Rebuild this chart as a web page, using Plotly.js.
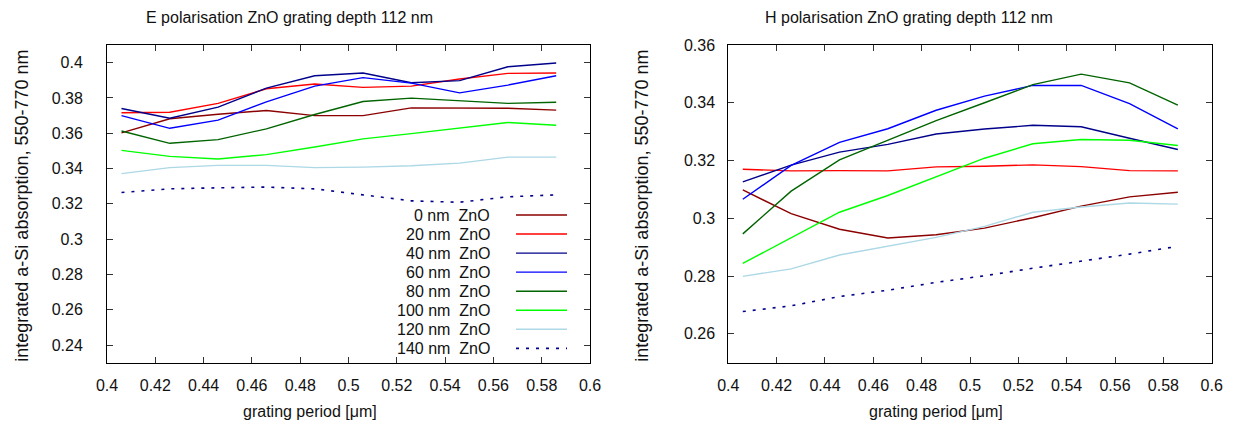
<!DOCTYPE html>
<html>
<head>
<meta charset="utf-8">
<script src="https://cdn.plot.ly/plotly-3.0.1.min.js"></script>
<style>
  html, body { margin: 0; padding: 0; background: #fff; }
  #chart { width: 1244px; height: 428px; }
</style>
</head>
<body>
<div id="chart"></div>
<script>
// ---- data ----
const periods = [0.406, 0.426, 0.446, 0.466, 0.486, 0.506, 0.526, 0.546, 0.566, 0.586];
const seriesNames = ["0 nm  ZnO", "20 nm  ZnO", "40 nm  ZnO", "60 nm  ZnO", "80 nm  ZnO", "100 nm  ZnO", "120 nm  ZnO", "140 nm  ZnO"];

// E polarisation
const E_0nm   = [0.3602, 0.3682, 0.3708, 0.3729, 0.3700, 0.3700, 0.3744, 0.3744, 0.3742, 0.3731];
const E_20nm  = [0.3716, 0.3719, 0.3769, 0.3852, 0.3879, 0.3860, 0.3867, 0.3907, 0.3939, 0.3941];
const E_40nm  = [0.3740, 0.3685, 0.3748, 0.3856, 0.3926, 0.3941, 0.3886, 0.3898, 0.3977, 0.3998];
const E_60nm  = [0.3700, 0.3628, 0.3674, 0.3778, 0.3867, 0.3915, 0.3884, 0.3829, 0.3873, 0.3926];
const E_80nm  = [0.3613, 0.3543, 0.3564, 0.3625, 0.3706, 0.3780, 0.3799, 0.3782, 0.3769, 0.3776];
const E_100nm = [0.3503, 0.3469, 0.3454, 0.3479, 0.3522, 0.3568, 0.3598, 0.3630, 0.3661, 0.3645];
const E_120nm = [0.3371, 0.3405, 0.3418, 0.3418, 0.3405, 0.3408, 0.3416, 0.3431, 0.3465, 0.3465];
const E_140nm = [0.3264, 0.3285, 0.3291, 0.3295, 0.3285, 0.3253, 0.3217, 0.3209, 0.3240, 0.3251];

// H polarisation
const H_0nm   = [0.3098, 0.3016, 0.2962, 0.2932, 0.2943, 0.2966, 0.3002, 0.3042, 0.3074, 0.3090];
const H_20nm  = [0.3170, 0.3164, 0.3165, 0.3164, 0.3178, 0.3180, 0.3185, 0.3179, 0.3165, 0.3164];
const H_40nm  = [0.3126, 0.3184, 0.3229, 0.3256, 0.3292, 0.3309, 0.3322, 0.3317, 0.3277, 0.3238];
const H_60nm  = [0.3066, 0.3183, 0.3263, 0.3310, 0.3374, 0.3423, 0.3460, 0.3460, 0.3397, 0.3310];
const H_80nm  = [0.2946, 0.3094, 0.3202, 0.3271, 0.3338, 0.3400, 0.3463, 0.3499, 0.3469, 0.3392];
const H_100nm = [0.2844, 0.2933, 0.3021, 0.3079, 0.3144, 0.3208, 0.3258, 0.3273, 0.3270, 0.3252];
const H_120nm = [0.2799, 0.2825, 0.2873, 0.2903, 0.2934, 0.2972, 0.3021, 0.3039, 0.3053, 0.3049];
const H_140nm = [0.2677, 0.2697, 0.2729, 0.2751, 0.2778, 0.2801, 0.2827, 0.2851, 0.2876, 0.2903];

const plotTitles = ["E polarisation ZnO grating depth 112 nm", "H polarisation ZnO grating depth 112 nm"];
const xLabel = "grating period [\u03bcm]";
const yLabel = "integrated a-Si absorption, 550-770 nm";

// ---- styles ----
const colors = ["#8b0000", "#ff0000", "#00008b", "#0000ff", "#006400", "#00ff00", "#add8e6", "#00008b"];
const dashes = ["solid", "solid", "solid", "solid", "solid", "solid", "solid", "3px,7px"];
const FONT = "Liberation Sans, Arial, Helvetica, sans-serif";

const Eseries = [E_0nm, E_20nm, E_40nm, E_60nm, E_80nm, E_100nm, E_120nm, E_140nm];
const Hseries = [H_0nm, H_20nm, H_40nm, H_60nm, H_80nm, H_100nm, H_120nm, H_140nm];

const traces = [];
Eseries.forEach((ys, i) => traces.push({
  x: periods, y: ys, type: "scatter", mode: "lines", name: seriesNames[i],
  xaxis: "x", yaxis: "y",
  line: { color: colors[i], width: i === 7 ? 1.6 : 1.4, dash: dashes[i] }
}));
Hseries.forEach((ys, i) => traces.push({
  x: periods, y: ys, type: "scatter", mode: "lines", name: seriesNames[i],
  xaxis: "x2", yaxis: "y2", showlegend: false,
  line: { color: colors[i], width: i === 7 ? 1.6 : 1.4, dash: dashes[i] }
}));

const W = 1244, H = 428;
const px = v => v / W;
const py = v => 1 - v / H;

const axisCommon = {
  showline: true, linecolor: "#000", linewidth: 1, mirror: "ticks",
  ticks: "inside", ticklen: 6, tickwidth: 1, tickcolor: "#333",
  showgrid: false, zeroline: false,
  tickfont: { family: FONT, size: 16, color: "#111" }
};

const xCommon = Object.assign({}, axisCommon, { range: [0.4, 0.6], tick0: 0.4, dtick: 0.02, ticklabelstandoff: 8 });

const layout = {
  width: W, height: H,
  margin: { l: 0, r: 0, t: 0, b: 0 },
  paper_bgcolor: "#fff", plot_bgcolor: "#fff",
  showlegend: false,
  font: { family: FONT, size: 16, color: "#111" },
  xaxis: Object.assign({}, xCommon, { domain: [px(107), px(590)], anchor: "y" }),
  xaxis2: Object.assign({}, xCommon, { domain: [px(728.3), px(1211.7)], anchor: "y2" }),
  yaxis: Object.assign({}, axisCommon, { domain: [py(362.7), py(45)], anchor: "x", range: [0.23, 0.41], tick0: 0.24, dtick: 0.02, ticklabelstandoff: 20 }),
  yaxis2: Object.assign({}, axisCommon, { domain: [py(362.7), py(45)], anchor: "x2", range: [0.25, 0.36], tick0: 0.26, dtick: 0.02, ticklabelstandoff: 9 }),
  annotations: [],
  shapes: []
};

const ann = (text, x, y, opts) => Object.assign({
  text: text, xref: "paper", yref: "paper", x: x, y: y,
  showarrow: false, xanchor: "center", yanchor: "middle",
  font: { family: FONT, size: 16, color: "#111" }
}, opts || {});

// titles
layout.annotations.push(ann(plotTitles[0], px(289), py(18)));
layout.annotations.push(ann(plotTitles[1], px(909), py(18)));
// x labels
layout.annotations.push(ann(xLabel, px(310), py(411)));
layout.annotations.push(ann(xLabel, px(936), py(411)));
// y labels
layout.annotations.push(ann(yLabel, px(21.7), py(206), { textangle: -90, font: { family: FONT, size: 18, color: "#111" } }));
layout.annotations.push(ann(yLabel, px(641.7), py(206), { textangle: -90, font: { family: FONT, size: 18, color: "#111" } }));

// key (gnuplot style: text right-aligned, sample on the right)
seriesNames.forEach((nm, i) => {
  const yy = 215 + 19.05 * i;
  layout.annotations.push(ann(nm, px(492), py(yy), { xanchor: "right" }));
  layout.shapes.push({
    type: "line", xref: "paper", yref: "paper",
    x0: px(516), x1: px(567), y0: py(yy), y1: py(yy),
    line: { color: colors[i], width: i === 7 ? 1.6 : 1.4, dash: dashes[i] }
  });
});

Plotly.newPlot("chart", traces, layout, { displayModeBar: false, staticPlot: true });
</script>
</body>
</html>
